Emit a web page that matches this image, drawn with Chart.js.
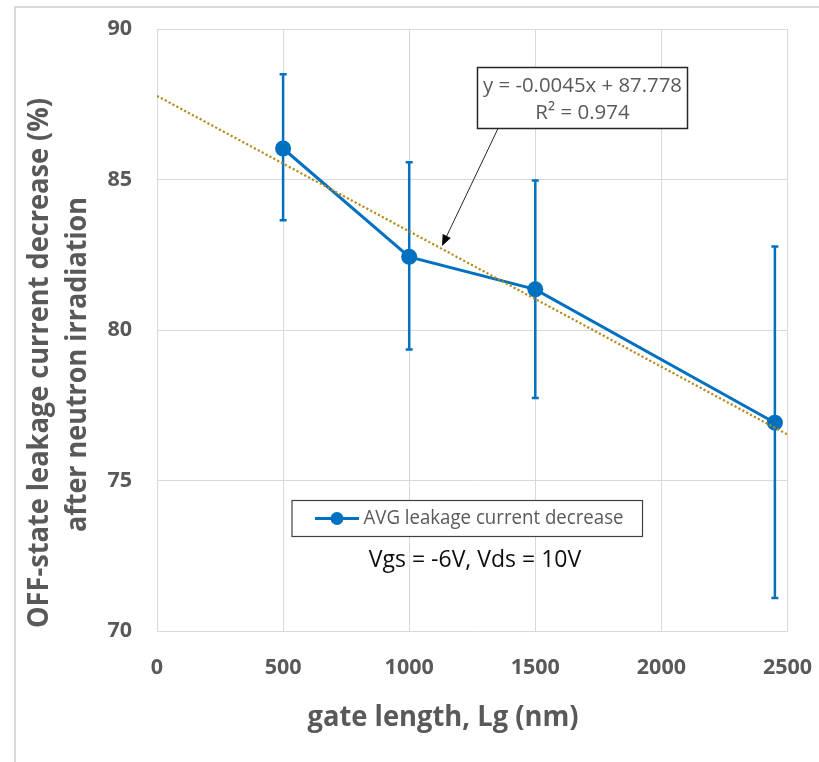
<!DOCTYPE html>
<html>
<head>
<meta charset="utf-8">
<script src="https://cdn.jsdelivr.net/npm/chart.js@4.4.1/dist/chart.umd.min.js"></script>
<style>
  html, body { margin: 0; padding: 0; background: #ffffff; }
  canvas { display: block; }
</style>
</head>
<body>
<canvas id="chart" width="819" height="762"></canvas>
<script>
// ---- data ----
const gateLength = [500, 1000, 1500, 2450];          // nm
const avgDecrease = [86.03, 82.43, 81.35, 76.92];    // %
const errHigh = [88.50, 85.57, 84.97, 82.77];
const errLow = [83.65, 79.35, 77.74, 71.10];
const xTicks = [0, 500, 1000, 1500, 2000, 2500];
const yTicks = [70, 75, 80, 85, 90];

// linear trendline as reported on the chart
const trendSlope = -0.0045;
const trendIntercept = 87.778;
const trendR2 = 0.974;
const trendRange = [0, 2500];
const trendArrowAt = 1130;

const seriesLabel = 'AVG leakage current decrease';
const biasLabel = 'Vgs = -6V, Vds = 10V';
const xTitle = 'gate length, Lg (nm)';
const yTitle = ['OFF-state leakage current decrease (%)', 'after neutron irradiation'];

// ---- styling ----
const FONT = "'Open Sans', 'DejaVu Sans', sans-serif";
const BLUE = '#0070C0';
const GOLD = '#B38B1E';
const GRID = '#D9D9D9';
const TEXT = '#595959';

const trendAt = x => trendIntercept + trendSlope * x;

function drawText(ctx, str, x, y, size, weight, color, maxW, align) {
  ctx.save();
  ctx.font = `${weight} ${size}px ${FONT}`;
  ctx.fillStyle = color;
  ctx.textAlign = align || 'center';
  ctx.textBaseline = 'middle';
  if (maxW) ctx.fillText(str, x, y, maxW); else ctx.fillText(str, x, y);
  ctx.restore();
}

// light frame around the chart object
const framePlugin = {
  id: 'frame',
  beforeDraw(chart) {
    const ctx = chart.ctx;
    ctx.save();
    ctx.strokeStyle = GRID;
    ctx.lineWidth = 2;
    ctx.strokeRect(15, 7, chart.width + 20, chart.height + 20);
    ctx.restore();
  }
};

// vertical error bars with caps
const errorBarPlugin = {
  id: 'errorBars',
  beforeDatasetsDraw(chart) {
    const ctx = chart.ctx;
    const xs = chart.scales.x, ys = chart.scales.y;
    ctx.save();
    ctx.strokeStyle = BLUE;
    ctx.lineWidth = 2.5;
    gateLength.forEach((g, i) => {
      const x = xs.getPixelForValue(g);
      const yt = ys.getPixelForValue(errHigh[i]);
      const yb = ys.getPixelForValue(errLow[i]);
      ctx.beginPath();
      ctx.moveTo(x, yt); ctx.lineTo(x, yb);
      ctx.moveTo(x - 3.5, yt); ctx.lineTo(x + 3.5, yt);
      ctx.moveTo(x - 3.5, yb); ctx.lineTo(x + 3.5, yb);
      ctx.stroke();
    });
    ctx.restore();
  }
};

// equation label with arrow, legend box, bias note and axis titles
const overlayPlugin = {
  id: 'overlay',
  afterDraw(chart) {
    const ctx = chart.ctx;
    const xs = chart.scales.x, ys = chart.scales.y;

    // trendline equation box
    const bx = 477.5, by = 67.5, bw = 210, bh = 61;
    ctx.save();
    ctx.fillStyle = '#ffffff';
    ctx.fillRect(bx, by, bw, bh);
    ctx.strokeStyle = '#262626';
    ctx.lineWidth = 1.5;
    ctx.strokeRect(bx, by, bw, bh);
    ctx.restore();
    drawText(ctx, `y = ${trendSlope}x + ${trendIntercept}`, bx + bw / 2, 86, 20.5, 'normal', TEXT, 199);
    drawText(ctx, `R² = ${trendR2}`, bx + bw / 2, 113, 20.5, 'normal', TEXT, 95);

    // arrow to the trendline
    const sx = 498, sy = by + bh;
    const tx = xs.getPixelForValue(trendArrowAt);
    const ty = ys.getPixelForValue(trendAt(trendArrowAt)) - 3;
    const ang = Math.atan2(ty - sy, tx - sx);
    const hl = 11, hw = 4.5;
    const baseX = tx - hl * Math.cos(ang), baseY = ty - hl * Math.sin(ang);
    ctx.save();
    ctx.strokeStyle = '#262626';
    ctx.fillStyle = '#000000';
    ctx.lineWidth = 1;
    ctx.beginPath();
    ctx.moveTo(sx, sy); ctx.lineTo(baseX, baseY);
    ctx.stroke();
    ctx.beginPath();
    ctx.moveTo(tx, ty);
    ctx.lineTo(baseX + hw * Math.sin(ang), baseY - hw * Math.cos(ang));
    ctx.lineTo(baseX - hw * Math.sin(ang), baseY + hw * Math.cos(ang));
    ctx.closePath();
    ctx.fill();
    ctx.restore();

    // legend
    const lx = 292, ly = 500.5, lw = 350.5, lh = 36;
    ctx.save();
    ctx.fillStyle = '#ffffff';
    ctx.fillRect(lx, ly, lw, lh);
    ctx.strokeStyle = '#404040';
    ctx.lineWidth = 1.2;
    ctx.strokeRect(lx, ly, lw, lh);
    const cy = ly + lh / 2;
    ctx.strokeStyle = BLUE;
    ctx.lineWidth = 3;
    ctx.beginPath();
    ctx.moveTo(315, cy); ctx.lineTo(359, cy);
    ctx.stroke();
    ctx.fillStyle = BLUE;
    ctx.beginPath();
    ctx.arc(337, cy, 6.5, 0, Math.PI * 2);
    ctx.fill();
    ctx.restore();
    drawText(ctx, seriesLabel, 363.5, cy, 20.5, 'normal', TEXT, 260, 'left');

    // bias conditions
    drawText(ctx, biasLabel, 475, 560, 23, 'normal', '#0d0d0d', 216);

    // axis titles
    drawText(ctx, xTitle, 443, 718, 28, 'bold', TEXT, 271);
    ctx.save();
    ctx.translate(40, 363);
    ctx.rotate(-Math.PI / 2);
    drawText(ctx, yTitle[0], 0, 0, 28, 'bold', TEXT, 530);
    ctx.restore();
    ctx.save();
    ctx.translate(78, 364.5);
    ctx.rotate(-Math.PI / 2);
    drawText(ctx, yTitle[1], 0, 0, 28, 'bold', TEXT, 335);
    ctx.restore();
  }
};

const tickFont = { family: FONT, size: 21.5, weight: 'bold' };

new Chart(document.getElementById('chart'), {
  type: 'line',
  data: {
    datasets: [
      {
        label: 'Linear trend',
        data: trendRange.map(x => ({ x: x, y: trendAt(x) })),
        borderColor: GOLD,
        borderWidth: 2.2,
        borderDash: [2.2, 2.2],
        pointRadius: 0,
        fill: false,
        order: 0
      },
      {
        label: seriesLabel,
        data: gateLength.map((x, i) => ({ x: x, y: avgDecrease[i] })),
        borderColor: BLUE,
        backgroundColor: BLUE,
        borderWidth: 3,
        pointRadius: 8,
        pointBackgroundColor: BLUE,
        pointBorderWidth: 0,
        tension: 0,
        fill: false,
        order: 1
      }
    ]
  },
  options: {
    responsive: false,
    animation: false,
    devicePixelRatio: 1,
    layout: { padding: { top: 29, right: 31.5, left: 0, bottom: 0 } },
    plugins: {
      legend: { display: false },
      tooltip: { enabled: false }
    },
    scales: {
      x: {
        type: 'linear',
        min: 0,
        max: 2500,
        afterBuildTicks: s => { s.ticks = xTicks.map(v => ({ value: v })); },
        afterFit: s => {
          s.height = 131;
          s.paddingLeft = 0; s.paddingRight = 0; s.paddingTop = 0; s.paddingBottom = 0;
        },
        grid: { color: GRID, lineWidth: 1, drawTicks: false },
        border: { color: GRID, width: 1 },
        ticks: { font: tickFont, color: TEXT, padding: 24, maxRotation: 0, callback: v => String(v) }
      },
      y: {
        type: 'linear',
        min: 70,
        max: 90,
        afterBuildTicks: s => { s.ticks = yTicks.map(v => ({ value: v })); },
        afterFit: s => {
          s.width = 157;
          s.paddingLeft = 0; s.paddingRight = 0; s.paddingTop = 0; s.paddingBottom = 0;
        },
        grid: { color: GRID, lineWidth: 1, drawTicks: false },
        border: { color: GRID, width: 1 },
        ticks: { font: tickFont, color: TEXT, padding: 25, callback: v => String(v) }
      }
    }
  },
  plugins: [framePlugin, errorBarPlugin, overlayPlugin]
});
</script>
</body>
</html>
